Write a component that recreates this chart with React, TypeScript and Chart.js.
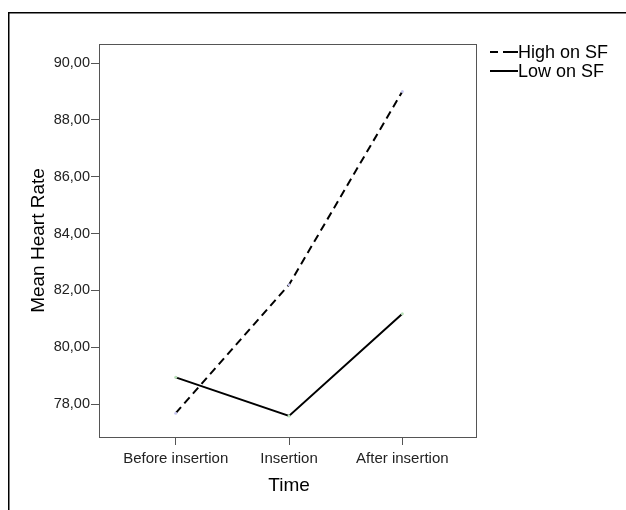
import React, { useEffect, useRef } from "react";
import { Chart, registerables } from "chart.js";

Chart.register(...registerables);

const categories = ["Before insertion", "Insertion", "After insertion"];
const highOnSF = [77.68, 82.2, 89.0];
const lowOnSF = [78.94, 77.58, 81.18];
const yTicks = [78, 80, 82, 84, 86, 88, 90];
const seriesNames = ["High on SF", "Low on SF"];

const FONT = "'Liberation Sans', Arial, sans-serif";
const W = 626;
const H = 510;
const PLOT = { left: 99, top: 44, right: 476, bottom: 437 };

export default function App() {
  const ref = useRef<HTMLCanvasElement | null>(null);
  useEffect(() => {
    if (!ref.current) return;
    const framePlugin = {
      id: "frame",
      beforeDraw(chart: any) {
        const ctx = chart.ctx;
        ctx.save();
        ctx.fillStyle = "#fff";
        ctx.fillRect(0, 0, W, H);
        ctx.strokeStyle = "#000";
        ctx.lineWidth = 1.5;
        ctx.strokeRect(8.75, 12.75, 700, 600);
        ctx.restore();
      },
      afterDraw(chart: any) {
        const ctx = chart.ctx;
        const a = chart.chartArea;
        ctx.save();
        ctx.strokeStyle = "#555";
        ctx.lineWidth = 1;
        ctx.strokeRect(Math.round(a.left) + 0.5, Math.round(a.top) + 0.5, Math.round(a.right - a.left), Math.round(a.bottom - a.top));
        // axis titles
        ctx.fillStyle = "#000";
        ctx.font = `19px ${FONT}`;
        ctx.textAlign = "center";
        ctx.textBaseline = "middle";
        ctx.fillText("Time", chart.scales.x.getPixelForValue(1), 486);
        ctx.save();
        ctx.translate(39, (a.top + a.bottom) / 2);
        ctx.rotate(-Math.PI / 2);
        ctx.fillText("Mean Heart Rate", 0, 0);
        ctx.restore();
        // legend
        ctx.font = `18px ${FONT}`;
        ctx.textAlign = "left";
        ctx.lineWidth = 2;
        ctx.strokeStyle = "#000";
        const items = [
          { name: seriesNames[0], dashed: true, y: 52 },
          { name: seriesNames[1], dashed: false, y: 71 },
        ];
        items.forEach((it) => {
          ctx.beginPath();
          if (it.dashed) {
            ctx.moveTo(490, it.y);
            ctx.lineTo(498, it.y);
            ctx.moveTo(503, it.y);
            ctx.lineTo(518, it.y);
          } else {
            ctx.moveTo(490, it.y);
            ctx.lineTo(518, it.y);
          }
          ctx.stroke();
          ctx.fillText(it.name, 518, it.y + 1);
        });
        ctx.restore();
      },
    };
    const chart = new Chart(ref.current, {
      type: "line",
      data: {
        datasets: [
          {
            label: seriesNames[0],
            data: highOnSF.map((v, i) => ({ x: i, y: v })),
            borderColor: "#000",
            borderWidth: 2,
            borderDash: [8, 5],
            pointRadius: 1.5,
            pointBackgroundColor: "#c8c8f0",
            pointBorderColor: "#c8c8f0",
            pointBorderWidth: 0,
            tension: 0,
          },
          {
            label: seriesNames[1],
            data: lowOnSF.map((v, i) => ({ x: i, y: v })),
            borderColor: "#000",
            borderWidth: 2,
            pointRadius: 1.5,
            pointBackgroundColor: "#b8e0b8",
            pointBorderColor: "#b8e0b8",
            pointBorderWidth: 0,
            tension: 0,
          },
        ],
      },
      options: {
        responsive: false,
        animation: false,
        layout: { padding: { left: 0, top: PLOT.top, right: W - PLOT.right, bottom: 0 } },
        plugins: { legend: { display: false }, tooltip: { enabled: false } },
        scales: {
          x: {
            type: "linear",
            min: -0.677,
            max: 2.65,
            afterBuildTicks: (s: any) => {
              s.ticks = categories.map((_, i) => ({ value: i }));
            },
            afterFit: (s: any) => {
              s.height = H - PLOT.bottom;
            },
            ticks: {
              autoSkip: false,
              maxRotation: 0,
              color: "#222",
              font: { family: FONT, size: 15 },
              padding: 5,
              callback: (v: any) => categories[Math.round(v)] ?? "",
            },
            grid: { drawOnChartArea: false, drawTicks: true, tickLength: 8, color: "#555" },
            border: { display: true, color: "#555" },
          },
          y: {
            type: "linear",
            min: 76.84,
            max: 90.67,
            afterBuildTicks: (s: any) => {
              s.ticks = yTicks.map((v) => ({ value: v }));
            },
            afterFit: (s: any) => {
              s.width = PLOT.left;
            },
            ticks: {
              color: "#222",
              font: { family: FONT, size: 14.5 },
              padding: 1,
              callback: (v: any) => Number(v).toFixed(2).replace(".", ","),
            },
            grid: { drawOnChartArea: false, drawTicks: true, tickLength: 8, color: "#555" },
            border: { display: true, color: "#555" },
          },
        },
      },
      plugins: [framePlugin],
    } as any);
    return () => chart.destroy();
  }, []);
  return (
    <div style={{ position: "fixed", left: 0, top: 0, width: W, height: H, background: "#fff" }}>
      <canvas ref={ref} width={W} height={H} style={{ display: "block", width: W, height: H }} />
    </div>
  );
}
